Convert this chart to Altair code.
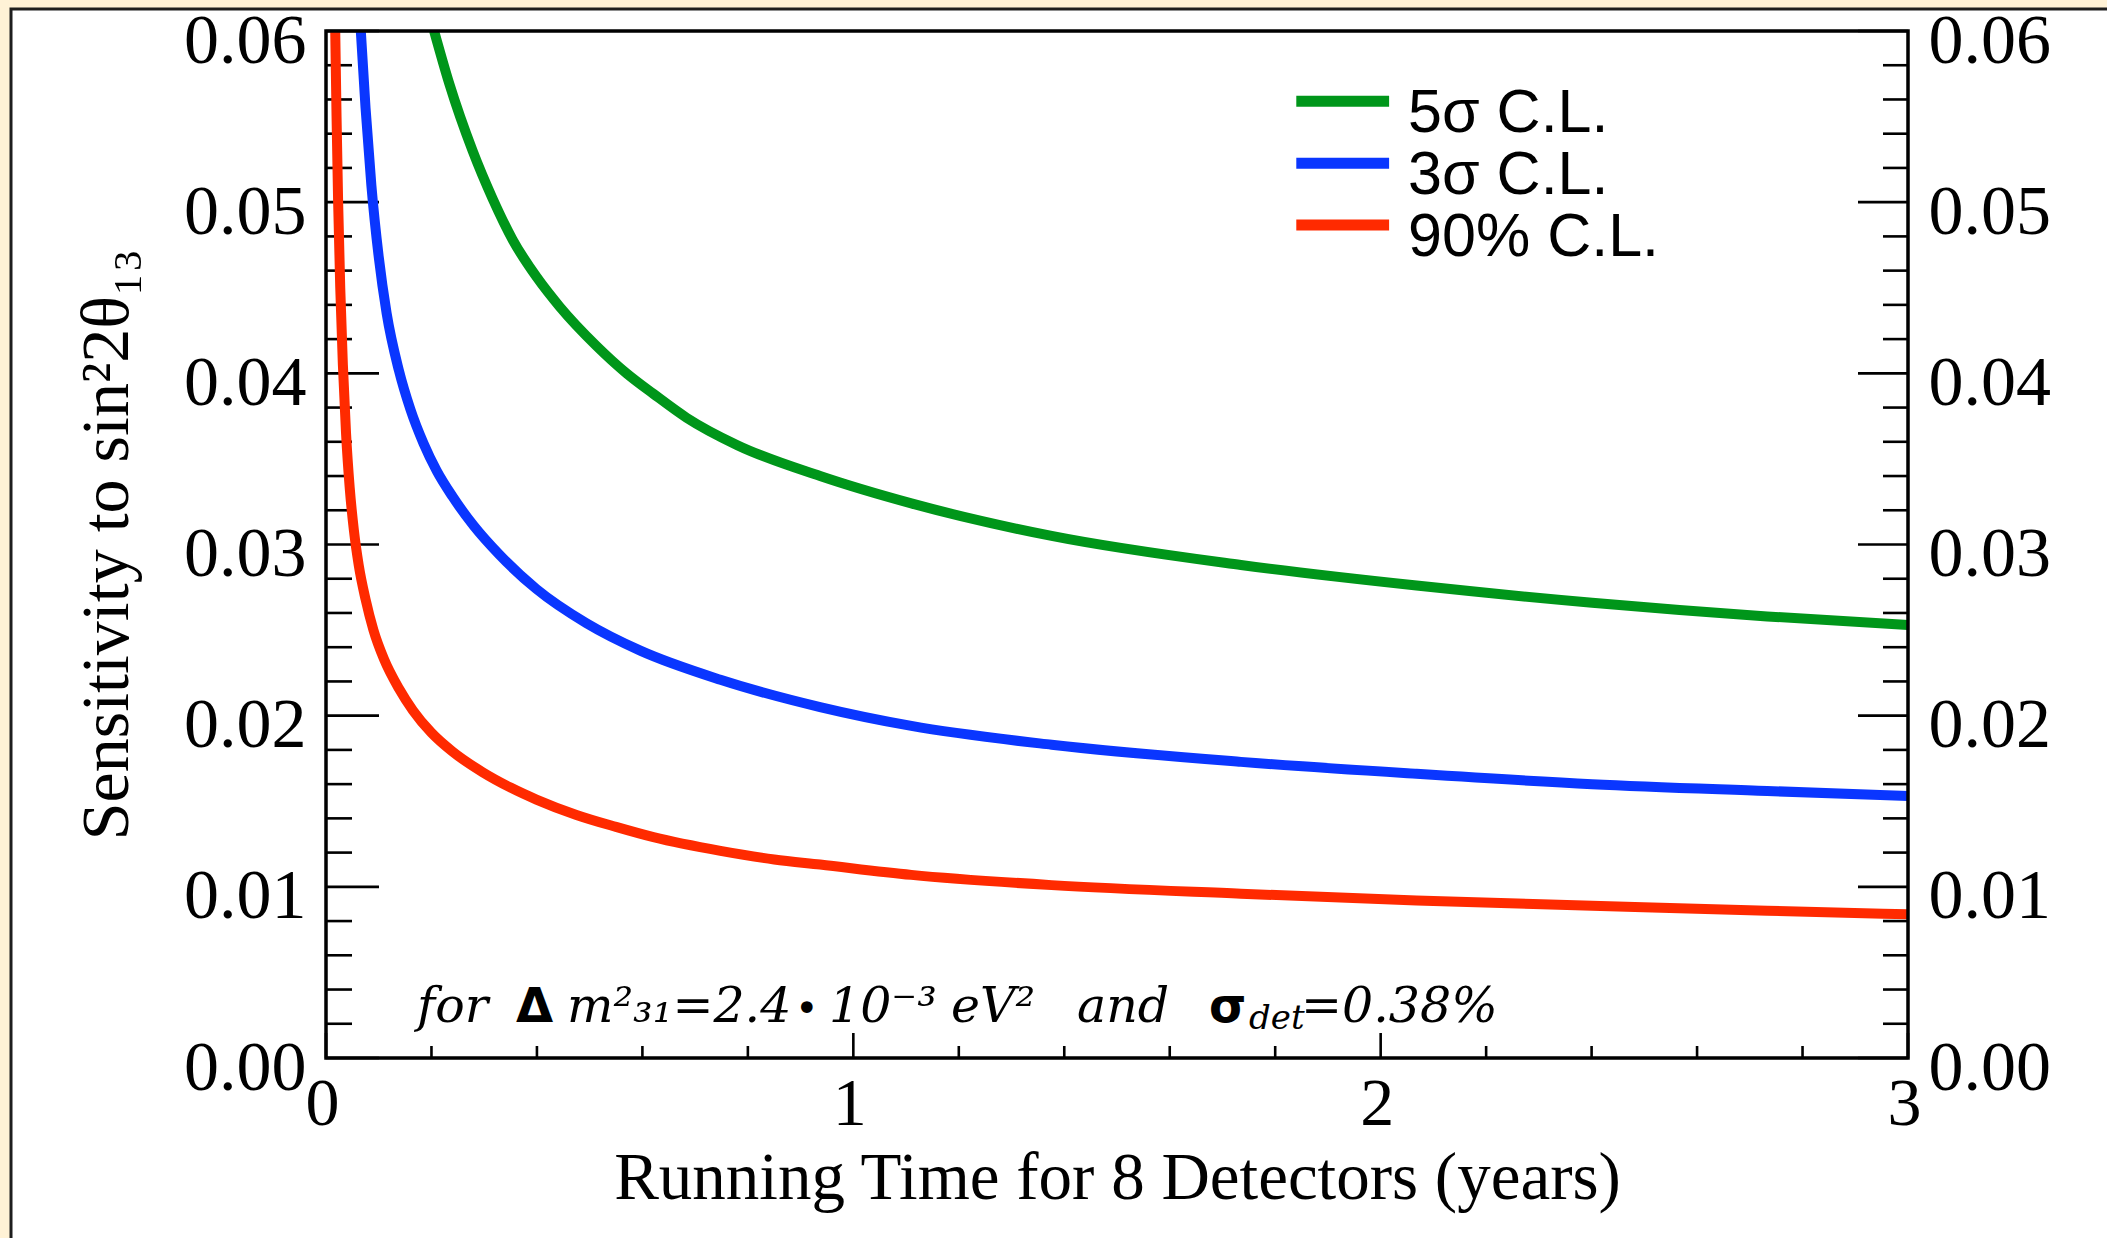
import altair as alt
import pandas as pd

# ---------------------------------------------------------------------------
# Sensitivity to sin^2(2θ13) versus running time, for three confidence levels
# ---------------------------------------------------------------------------
series_names = ["5σ C.L.", "3σ C.L.", "90% C.L."]
series_colors = ["#00961A", "#0A36FF", "#FF2A00"]

t_5sigma = [0.205, 0.234, 0.278, 0.316, 0.354, 0.400, 0.443, 0.513, 0.570, 0.621,
            0.684, 0.780, 0.937, 1.110, 1.376, 1.735, 2.068, 2.401, 2.733, 3.000]
s_5sigma = [0.0600, 0.0569, 0.0530, 0.0502, 0.0478, 0.0456, 0.0439, 0.0416, 0.0400, 0.0388,
            0.0374, 0.0358, 0.0340, 0.0324, 0.0305, 0.0288, 0.0276, 0.0266, 0.0258, 0.0253]

t_3sigma = [0.066, 0.075, 0.086, 0.100, 0.115, 0.138, 0.160, 0.185, 0.210, 0.240,
            0.280, 0.329, 0.399, 0.494, 0.596, 0.748, 0.937, 1.110, 1.376, 1.735,
            2.068, 2.401, 2.733, 3.000]
s_3sigma = [0.0600, 0.0555, 0.0510, 0.0468, 0.0435, 0.0402, 0.0379, 0.0359, 0.0343, 0.0328,
            0.0311, 0.0294, 0.0274, 0.0254, 0.0238, 0.0221, 0.0205, 0.0194, 0.0183, 0.0173,
            0.0166, 0.0160, 0.0156, 0.0153]

t_90 = [0.0175, 0.020, 0.023, 0.027, 0.032, 0.038, 0.045, 0.053, 0.062, 0.075,
        0.090, 0.110, 0.138, 0.165, 0.200, 0.240, 0.297, 0.350, 0.399, 0.475,
        0.550, 0.621, 0.748, 0.850, 0.937, 1.110, 1.376, 1.735, 2.068, 2.401,
        2.733, 3.000]
s_90 = [0.0600, 0.0550, 0.0500, 0.0450, 0.0405, 0.0365, 0.0333, 0.0308, 0.0288, 0.0268,
        0.0250, 0.0233, 0.0216, 0.0203, 0.0190, 0.0179, 0.0167, 0.0158, 0.0151, 0.0142,
        0.0135, 0.0129, 0.0121, 0.0116, 0.0113, 0.0107, 0.0101, 0.0096, 0.0092, 0.0089,
        0.0086, 0.0084]

# Axis tick values
x_major = [0, 1, 2, 3]
x_minor = [0.2, 0.4, 0.6, 0.8, 1.2, 1.4, 1.6, 1.8, 2.2, 2.4, 2.6, 2.8]
y_major = [0.00, 0.01, 0.02, 0.03, 0.04, 0.05, 0.06]
y_minor = [0.002, 0.004, 0.006, 0.008, 0.012, 0.014, 0.016, 0.018,
           0.022, 0.024, 0.026, 0.028, 0.032, 0.034, 0.036, 0.038,
           0.042, 0.044, 0.046, 0.048, 0.052, 0.054, 0.056, 0.058]

# Annotation pieces: (text, x position in years)
anno_italic = [("for", 0.1726), ("m²₃₁=2.4", 0.4570), ("10⁻³", 0.9539),
               ("eV²", 1.1852), ("and", 1.4242), ("=0.38%", 1.8489)]
anno_symbol = [("Δ", 0.3603), ("σ", 1.6745)]
anno_bullet = [("•", 0.8894)]
anno_sub = [("det", 1.7503)]

# ---------------------------------------------------------------------------
W, H = 1582, 1027
SERIF = "Liberation Serif"
xs = alt.Scale(domain=[0, 3], nice=False, zero=False)
ys = alt.Scale(domain=[0, 0.06], nice=False, zero=False)
color_scale = alt.Scale(domain=series_names, range=series_colors)

curves = pd.concat(
    [pd.DataFrame({"series": n, "t": t, "s": s})
     for n, t, s in zip(series_names, [t_5sigma, t_3sigma, t_90], [s_5sigma, s_3sigma, s_90])],
    ignore_index=True,
)

x_axis = alt.Axis(
    orient="bottom", values=x_major, format="d", grid=False, domain=False, ticks=False,
    tickSize=0, labelFont=SERIF, labelFontSize=68, labelColor="black", labelPadding=12,
    labelBaseline="top", labelFlush=False, labelOverlap=False, labelOffset=-4,
    title="Running Time for 8 Detectors (years)", titleFont=SERIF, titleFontSize=67,
    titleFontWeight="normal", titleColor="black", titleX=W / 2, titleY=140,
    titleAlign="center", titleBaseline="alphabetic", zindex=1,
)
y_axis_left = alt.Axis(
    orient="left", values=y_major, format=".2f", grid=False, domain=False, ticks=False,
    tickSize=0, labelFont=SERIF, labelFontSize=70, labelColor="black", labelPadding=20,
    labelOffset=10, labelFlush=False, labelOverlap=False,
    title="Sensitivity to sin²2θ₁₃", titleFont=SERIF, titleFontSize=68,
    titleFontWeight="normal", titleColor="black", titleAngle=270, titleX=-199,
    titleY=513, titleAlign="center", titleBaseline="alphabetic", zindex=1,
)
y_axis_right = alt.Axis(
    orient="right", values=y_major, format=".2f", grid=False, domain=False, ticks=False,
    tickSize=0, labelFont=SERIF, labelFontSize=70, labelColor="black", labelPadding=20,
    labelOffset=10, labelFlush=False, labelOverlap=False, title=None, zindex=1,
)

one_row = pd.DataFrame({"k": [0]})

# white page frame behind the plot
page = alt.Chart(one_row).mark_rect(fill="white", stroke="#1e1e1e", strokeWidth=3).encode(
    x=alt.value(-315), y=alt.value(-22), x2=alt.value(W + 240), y2=alt.value(H + 240)
)
# plot-area border
border = alt.Chart(one_row).mark_rect(filled=False, stroke="black", strokeWidth=3.5).encode(
    x=alt.value(0), y=alt.value(0), x2=alt.value(W), y2=alt.value(H)
)


def vticks(values, x0, x1, axis=None):
    return alt.Chart(pd.DataFrame({"v": values})).mark_rule(
        color="black", strokeWidth=2.6
    ).encode(y=alt.Y("v:Q", scale=ys, axis=axis), x=alt.value(x0), x2=alt.value(x1))


def hticks(values, length):
    return alt.Chart(pd.DataFrame({"v": values})).mark_rule(
        color="black", strokeWidth=2.6
    ).encode(x=alt.X("v:Q", scale=xs, axis=None), y=alt.value(H), y2=alt.value(H - length))


ticks = [
    vticks(y_major, 0, 53),
    vticks(y_minor, 0, 26),
    vticks(y_minor, W, W - 25),
    hticks(x_major, 25),
    hticks(x_minor, 12),
]
right_axis_layer = vticks(y_major, W, W - 50, axis=y_axis_right)

lines = alt.Chart(curves).mark_line(strokeWidth=10, interpolate="monotone", clip=True).encode(
    x=alt.X("t:Q", scale=xs, axis=x_axis),
    y=alt.Y("s:Q", scale=ys, axis=y_axis_left),
    color=alt.Color("series:N", scale=color_scale, legend=None),
    detail="series:N",
)

# legend in the upper right corner of the plot
leg_rows = pd.DataFrame({"series": series_names})
leg_rows["y_line"] = [0.0559 - 0.00362 * i for i in range(len(series_names))]
leg_rows["y_text"] = leg_rows["y_line"] - 0.00180
leg_rows["x0"] = 1.840
leg_rows["x1"] = 2.016
leg_rows["xt"] = 2.052

legend_lines = alt.Chart(leg_rows).mark_rule(strokeWidth=11).encode(
    x=alt.X("x0:Q", scale=xs, axis=None), x2="x1:Q",
    y=alt.Y("y_line:Q", scale=ys, axis=None),
    color=alt.Color("series:N", scale=color_scale, legend=None),
)
legend_text = alt.Chart(leg_rows).mark_text(
    font="Liberation Sans", fontSize=61, align="left", baseline="alphabetic", color="black"
).encode(
    x=alt.X("xt:Q", scale=xs, axis=None),
    y=alt.Y("y_text:Q", scale=ys, axis=None),
    text="series:N",
)


def anno_layer(pieces, y, **style):
    df = pd.DataFrame({"text": [p[0] for p in pieces], "x": [p[1] for p in pieces]})
    df["y"] = y
    return alt.Chart(df).mark_text(align="left", baseline="alphabetic", color="black", **style).encode(
        x=alt.X("x:Q", scale=xs, axis=None),
        y=alt.Y("y:Q", scale=ys, axis=None),
        text="text:N",
    )


annotation = [
    anno_layer(anno_italic, 0.0021, font="DejaVu Serif", fontStyle="italic", fontSize=49),
    anno_layer(anno_symbol, 0.0021, font="DejaVu Sans", fontWeight="bold", fontSize=48),
    anno_layer(anno_bullet, 0.0021, font="DejaVu Sans", fontSize=40),
    anno_layer(anno_sub, 0.0017, font="DejaVu Serif", fontStyle="italic", fontSize=34),
]

chart = alt.layer(
    page, *ticks, lines, border, legend_lines, legend_text, *annotation, right_axis_layer
).resolve_axis(x="independent", y="independent").properties(
    width=W, height=H,
    padding={"left": 326, "top": 31, "right": 2107 - 326 - W, "bottom": 1238 - 31 - H},
    autosize=alt.AutoSizeParams(type="none"),
).configure(background="#FFF2D6").configure_view(stroke=None)

chart.save("out.html", embed_options={"renderer": "svg", "actions": False})
